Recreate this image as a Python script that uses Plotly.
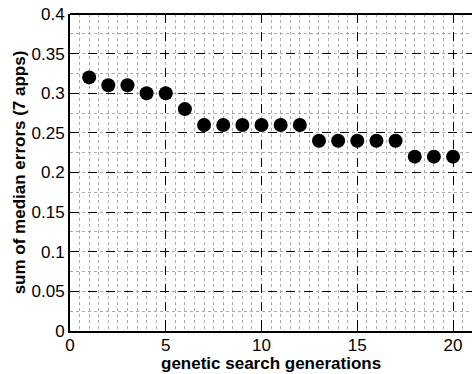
import plotly.graph_objects as go

generations = list(range(1, 21))
sum_median_errors = [0.32, 0.31, 0.31, 0.30, 0.30, 0.28, 0.26, 0.26, 0.26, 0.26,
                     0.26, 0.26, 0.24, 0.24, 0.24, 0.24, 0.24, 0.22, 0.22, 0.22]
x_ticks = [0, 5, 10, 15, 20]
y_ticks = [0, 0.05, 0.1, 0.15, 0.2, 0.25, 0.3, 0.35, 0.4]
y_tick_text = ["0", "0.05", "0.1", "0.15", "0.2", "0.25", "0.3", "0.35", "0.4"]

fig = go.Figure()
fig.add_trace(go.Scatter(
    x=generations, y=sum_median_errors, mode="markers",
    marker=dict(color="black", size=14, line=dict(width=0)),
    showlegend=False, cliponaxis=False,
))

font = "Liberation Sans, Arial, sans-serif"
fig.update_layout(
    width=472, height=374,
    margin=dict(l=70, r=0, t=14, b=43),
    paper_bgcolor="white", plot_bgcolor="white",
    font=dict(family=font, color="black", size=17),
)
fig.update_xaxes(
    range=[0, 20.99], tickvals=x_ticks, ticktext=[str(t) for t in x_ticks],
    showgrid=True, gridcolor="black", griddash="dash", gridwidth=1,
    showline=True, linecolor="black", linewidth=2, mirror=False,
    ticks="inside", ticklen=4, tickcolor="black", zeroline=False,
    tickfont=dict(size=17), ticklabelstandoff=-2,
    minor=dict(dtick=0.5, showgrid=True, gridcolor="#aaaaaa", griddash="dot", gridwidth=1),
)
fig.update_yaxes(
    range=[0, 0.4], tickvals=y_ticks, ticktext=y_tick_text,
    showgrid=True, gridcolor="black", griddash="dash", gridwidth=1,
    showline=True, linecolor="black", linewidth=2, mirror=False,
    ticks="inside", ticklen=4, tickcolor="black", zeroline=False,
    tickfont=dict(size=17),
    minor=dict(dtick=0.025, showgrid=True, gridcolor="#aaaaaa", griddash="dot", gridwidth=1),
    title=dict(text="<b>sum of median errors (7 apps)</b>", font=dict(size=17), standoff=2),
)
# x-axis title, placed at the bottom edge below the tick labels
fig.add_annotation(
    text="<b>genetic search generations</b>", xref="paper", yref="paper",
    x=0.5, y=0, yshift=-43, xanchor="center", yanchor="bottom",
    showarrow=False, font=dict(size=17), borderpad=0,
)
# top border line of the axes box
fig.add_shape(type="line", xref="paper", yref="paper", x0=0, x1=1, y0=1, y1=1,
              line=dict(color="black", width=2))

fig.write_html("out.html")
